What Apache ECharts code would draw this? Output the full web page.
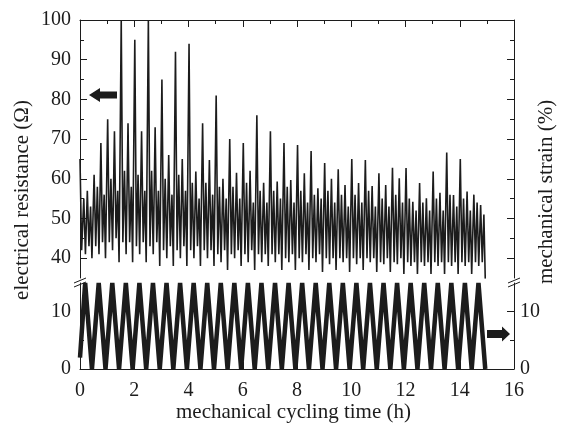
<!DOCTYPE html>
<html>
<head>
<meta charset="utf-8">
<script src="https://cdn.jsdelivr.net/npm/echarts@6/dist/echarts.min.js"></script>
<style>
html,body{margin:0;padding:0;background:#fff;}
#chart{width:567px;height:436px;}
</style>
</head>
<body>
<div id="chart"></div>
<script>
// ---- data ----
const xTicks = [0, 2, 4, 6, 8, 10, 12, 14, 16];
const resTicksMajor = [40, 50, 60, 70, 80, 90, 100];
const resTicksMinor = [45, 55, 65, 75, 85, 95];
const strainTicksMajor = [0, 10];
const strainTicksMinor = [5];

// electrical resistance (Ohm) vs time (h)
const resTime = [
  0, 0.06, 0.14, 0.20, 0.27, 0.33, 0.39,
  0.44, 0.52, 0.58, 0.64, 0.70, 0.77, 0.83, 0.89,
  0.94, 1.02, 1.08, 1.14, 1.20, 1.27, 1.33, 1.39,
  1.44, 1.52, 1.58, 1.64, 1.70, 1.77, 1.83, 1.89,
  1.94, 2.02, 2.08, 2.14, 2.20, 2.27, 2.33, 2.39,
  2.44, 2.52, 2.58, 2.64, 2.70, 2.77, 2.83, 2.89,
  2.94, 3.02, 3.08, 3.14, 3.20, 3.27, 3.33, 3.39,
  3.44, 3.52, 3.58, 3.64, 3.70, 3.77, 3.83, 3.89,
  3.94, 4.02, 4.08, 4.14, 4.20, 4.27, 4.33, 4.39,
  4.44, 4.52, 4.58, 4.64, 4.70, 4.77, 4.83, 4.89,
  4.94, 5.02, 5.08, 5.14, 5.20, 5.27, 5.33, 5.39,
  5.44, 5.52, 5.58, 5.64, 5.70, 5.77, 5.83, 5.89,
  5.94, 6.02, 6.08, 6.14, 6.20, 6.27, 6.33, 6.39,
  6.44, 6.52, 6.58, 6.64, 6.70, 6.77, 6.83, 6.89,
  6.94, 7.02, 7.08, 7.14, 7.20, 7.27, 7.33, 7.39,
  7.44, 7.52, 7.58, 7.64, 7.70, 7.77, 7.83, 7.89,
  7.94, 8.02, 8.08, 8.14, 8.20, 8.27, 8.33, 8.39,
  8.44, 8.52, 8.58, 8.64, 8.70, 8.77, 8.83, 8.89,
  8.94, 9.02, 9.08, 9.14, 9.20, 9.27, 9.33, 9.39,
  9.44, 9.52, 9.58, 9.64, 9.70, 9.77, 9.83, 9.89,
  9.94, 10.02, 10.08, 10.14, 10.20, 10.27, 10.33, 10.39,
  10.44, 10.52, 10.58, 10.64, 10.70, 10.77, 10.83, 10.89,
  10.94, 11.02, 11.08, 11.14, 11.20, 11.27, 11.33, 11.39,
  11.44, 11.52, 11.58, 11.64, 11.70, 11.77, 11.83, 11.89,
  11.94, 12.02, 12.08, 12.14, 12.20, 12.27, 12.33, 12.39,
  12.44, 12.52, 12.58, 12.64, 12.70, 12.77, 12.83, 12.89,
  12.94, 13.02, 13.08, 13.14, 13.20, 13.27, 13.33, 13.39,
  13.44, 13.52, 13.58, 13.64, 13.70, 13.77, 13.83, 13.89,
  13.94, 14.02, 14.08, 14.14, 14.20, 14.27, 14.33, 14.39,
  14.44, 14.52, 14.58, 14.64, 14.70, 14.77, 14.83, 14.89,
  14.94
];
const resValue = [
  65, 42, 55, 41, 57, 43, 53,
  40, 61, 43, 58, 41, 69, 44, 56,
  40, 75, 44, 60, 42, 72, 45, 57,
  39, 100, 44, 62, 41, 74, 44, 58,
  39, 95, 43, 61, 41, 72, 44, 57,
  39, 100, 43, 62, 41, 73, 44, 57,
  38, 85, 42, 60, 40, 66, 43, 56,
  38, 92, 42, 61, 40, 65, 43, 57,
  38, 94, 42, 59, 40, 61.8, 43, 55,
  38, 74, 42, 59, 40, 64.7, 42, 56,
  38, 81, 41, 58, 39, 60, 42, 55,
  37, 70, 41, 58, 40, 61.5, 42, 55,
  38, 69, 41, 59, 39, 62, 42, 54,
  37, 76, 41, 57, 39, 59, 41, 54,
  38, 72, 41, 57, 39, 59.3, 41, 55,
  37, 69, 40, 58, 39, 59.7, 41, 54,
  37, 68.5, 40, 57, 39, 61.4, 41, 54,
  37, 67, 40, 56, 39, 57.6, 41, 55,
  36.5, 64, 40, 57, 38.5, 60, 40, 54,
  37, 62.4, 40, 56, 39, 58.4, 40, 53,
  36.5, 65, 40, 56, 38.5, 58.9, 40, 54,
  37, 64.7, 40, 57, 39, 58.2, 40, 53,
  36.5, 61.4, 39, 55, 38.5, 58.4, 40, 53,
  36.5, 62.8, 39, 56, 38.5, 60.1, 40, 54,
  36, 62.7, 39, 55, 38, 54.2, 39, 52,
  36, 58.9, 39, 54, 38, 55.1, 39, 52,
  36, 61.8, 39, 55, 38, 56.5, 39, 52,
  36, 66.6, 39, 56, 38, 55.9, 39, 53,
  36, 65, 39, 55, 38, 56.8, 39, 52,
  36, 56, 39, 54, 38, 53.4, 39, 51,
  34.8
];

// mechanical strain (%) vs time (h)
const strainTime = [
  0, 0.19, 0.44, 0.69, 0.94, 1.19, 1.44, 1.69, 1.94, 2.19, 2.44, 2.69, 2.94,
  3.19, 3.44, 3.69, 3.94, 4.19, 4.44, 4.69, 4.94, 5.19, 5.44, 5.69, 5.94,
  6.19, 6.44, 6.69, 6.94, 7.19, 7.44, 7.69, 7.94, 8.19, 8.44, 8.69, 8.94,
  9.19, 9.44, 9.69, 9.94, 10.19, 10.44, 10.69, 10.94, 11.19, 11.44, 11.69, 11.94,
  12.19, 12.44, 12.69, 12.94, 13.19, 13.44, 13.69, 13.94, 14.19, 14.44, 14.69, 14.94
];
const strainValue = [
  2, 15, 0, 15, 0, 15, 0, 15, 0, 15, 0, 15, 0,
  15, 0, 15, 0, 15, 0, 15, 0, 15, 0, 15, 0,
  15, 0, 15, 0, 15, 0, 15, 0, 15, 0, 15, 0,
  15, 0, 15, 0, 15, 0, 15, 0, 15, 0, 15, 0,
  15, 0, 15, 0, 15, 0, 15, 0, 15, 0, 15, 0
];

const xTitle = 'mechanical cycling time (h)';
const yLeftTitle = 'electrical resistance (Ω)';
const yRightTitle = 'mechanical strain (%)';

// ---- chart ----
const FONT = '"Liberation Serif", "Times New Roman", serif';
const INK = '#1c1c1c';
const chart = echarts.init(document.getElementById('chart'), null, {renderer: 'canvas'});

function yAx(grid, pos, min, max, ticks, len, withLine, labels) {
  return {
    type: 'value', gridIndex: grid, position: pos, min: min, max: max,
    axisLine: {show: withLine, lineStyle: {color: INK, width: 1}},
    axisTick: {show: true, inside: true, length: len, customValues: ticks, lineStyle: {color: INK, width: 1}},
    axisLabel: labels ? {show: true, customValues: labels, fontFamily: FONT, fontSize: 20, color: INK, margin: pos === 'left' ? 9 : 6}
                      : {show: false},
    splitLine: {show: false}
  };
}

const pairs = (xs, ys) => xs.map((x, i) => [x, ys[i]]);

const option = {
  animation: false,
  backgroundColor: '#fff',
  grid: [
    {left: 80, right: 53, top: 20, height: 258},
    {left: 80, right: 53, top: 283, height: 86}
  ],
  xAxis: [
    {
      type: 'value', gridIndex: 0, position: 'top', min: 0, max: 16, interval: 2,
      axisLine: {show: true, lineStyle: {color: INK, width: 1}},
      axisTick: {show: true, inside: true, length: 7, lineStyle: {color: INK}},
      minorTick: {show: true, splitNumber: 2, length: 4, lineStyle: {color: INK}},
      axisLabel: {show: false}, splitLine: {show: false}
    },
    {
      type: 'value', gridIndex: 1, position: 'bottom', min: 0, max: 16, interval: 2,
      axisLine: {show: true, lineStyle: {color: INK, width: 1}},
      axisTick: {show: true, inside: true, length: 7, customValues: xTicks, lineStyle: {color: INK}},
      axisLabel: {show: true, customValues: xTicks, fontFamily: FONT, fontSize: 20, color: INK, margin: 12},
      splitLine: {show: false}
    }
  ],
  yAxis: [
    yAx(0, 'left', 35, 100, resTicksMajor, 7, true, resTicksMajor),
    yAx(0, 'left', 35, 100, resTicksMinor, 4, false, null),
    yAx(0, 'right', 35, 100, resTicksMajor, 7, true, null),
    yAx(0, 'right', 35, 100, resTicksMinor, 4, false, null),
    yAx(1, 'left', 0, 15, strainTicksMajor, 7, true, strainTicksMajor),
    yAx(1, 'left', 0, 15, strainTicksMinor, 4, false, null),
    yAx(1, 'right', 0, 15, strainTicksMajor, 7, true, strainTicksMajor),
    yAx(1, 'right', 0, 15, strainTicksMinor, 4, false, null)
  ],
  series: [
    {
      name: 'resistance', type: 'line', xAxisIndex: 0, yAxisIndex: 0,
      data: pairs(resTime, resValue), showSymbol: false, symbol: 'none',
      lineStyle: {color: INK, width: 1.6}, clip: true
    },
    {
      name: 'strain', type: 'line', xAxisIndex: 1, yAxisIndex: 4,
      data: pairs(strainTime, strainValue), showSymbol: false, symbol: 'none',
      lineStyle: {color: INK, width: 4.5}, clip: false
    }
  ],
  graphic: [
    {type: 'text', left: 176, top: 402,
     style: {text: xTitle, font: '21px ' + FONT, fill: INK}},
    {type: 'text', x: 22, y: 200, rotation: Math.PI / 2,
     style: {text: yLeftTitle, font: '21px ' + FONT, fill: INK, align: 'center', verticalAlign: 'middle'}},
    {type: 'text', x: 546, y: 192, rotation: Math.PI / 2,
     style: {text: yRightTitle, font: '21px ' + FONT, fill: INK, align: 'center', verticalAlign: 'middle'}},
    // arrows
    {type: 'polygon', shape: {points: [[89, 95], [100, 88], [100, 91.5], [117, 91.5], [117, 98.5], [100, 98.5], [100, 102]]},
     style: {fill: INK}},
    {type: 'polygon', shape: {points: [[487, 330], [502, 330], [502, 326.5], [510, 334], [502, 341.5], [502, 338], [487, 338]]},
     style: {fill: INK}},
    // axis break marks
    {type: 'line', shape: {x1: 74, y1: 283, x2: 86, y2: 278}, style: {stroke: INK, lineWidth: 1}},
    {type: 'line', shape: {x1: 74, y1: 287, x2: 86, y2: 282}, style: {stroke: INK, lineWidth: 1}},
    {type: 'line', shape: {x1: 508, y1: 283, x2: 520, y2: 278}, style: {stroke: INK, lineWidth: 1}},
    {type: 'line', shape: {x1: 508, y1: 287, x2: 520, y2: 282}, style: {stroke: INK, lineWidth: 1}}
  ]
};
chart.setOption(option);
</script>
</body>
</html>
